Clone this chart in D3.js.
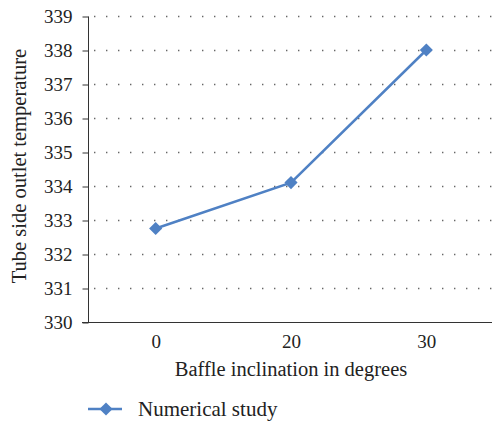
<!DOCTYPE html>
<html>
<head>
<meta charset="utf-8">
<script src="https://cdn.jsdelivr.net/npm/d3@7"></script>
<style>
  body { margin: 0; background: #fff; }
  text { font-family: "Liberation Serif", "DejaVu Serif", serif; fill: #222; }
</style>
</head>
<body>
<div id="chart"></div>
<script>
// data
var categories = ["0", "20", "30"];
var temps = [332.75, 334.1, 338.0];
var yTicks = [330, 331, 332, 333, 334, 335, 336, 337, 338, 339];
var seriesName = "Numerical study";

var svgWidth = 492;
var svgHeight = 424;

var margin = { top: 16, right: 0, bottom: 102, left: 88 };
var width = svgWidth - margin.left - margin.right;
var height = svgHeight - margin.top - margin.bottom;

var svg = d3.select("#chart")
  .append("svg")
  .attr("width", svgWidth)
  .attr("height", svgHeight);

var chartGroup = svg.append("g")
  .attr("transform", `translate(${margin.left}, ${margin.top})`);

var xScale = d3.scalePoint()
  .domain(categories)
  .range([0, 406])
  .padding(0.5);

var yScale = d3.scaleLinear()
  .domain([330, 339])
  .range([height, 0]);

// dotted gridlines
chartGroup.selectAll(".grid")
  .data(yTicks.slice(1))
  .enter()
  .append("line")
  .attr("x1", 6)
  .attr("x2", width)
  .attr("y1", d => yScale(d) + 0.5)
  .attr("y2", d => yScale(d) + 0.5)
  .attr("stroke", "#666")
  .attr("stroke-width", 1.4)
  .attr("stroke-dasharray", "1.4,10.6");

// y axis
var leftAxis = d3.axisLeft(yScale).tickValues(yTicks).tickSize(6).tickPadding(10);
var yAxisG = chartGroup.append("g")
  .attr("transform", "translate(0.5,0.5)")
  .call(leftAxis);
yAxisG.select(".domain").attr("stroke", "#333").attr("d", `M0,${height}V0`);
yAxisG.selectAll(".tick line").attr("stroke", "#333");
yAxisG.selectAll("text").style("font-size", "19px").attr("fill", "#222");

// x axis (line only, no tick marks)
var bottomAxis = d3.axisBottom(xScale).tickSize(0).tickPadding(12);
var xAxisG = chartGroup.append("g")
  .attr("transform", `translate(0, ${height + 0.5})`)
  .call(bottomAxis);
xAxisG.select(".domain").attr("stroke", "#333").attr("d", `M-6,0H${width}`);
xAxisG.selectAll("text").style("font-size", "19px").attr("fill", "#222");

// series line
var line = d3.line()
  .x((d, i) => xScale(categories[i]))
  .y(d => yScale(d));

chartGroup.append("path")
  .datum(temps)
  .attr("d", line)
  .attr("fill", "none")
  .attr("stroke", "#4f81c4")
  .attr("stroke-width", 2.5);

var diamond = d3.symbol().type(d3.symbolDiamond2).size(110);

chartGroup.selectAll(".marker")
  .data(temps)
  .enter()
  .append("path")
  .attr("class", "marker")
  .attr("transform", (d, i) => `translate(${xScale(categories[i])}, ${yScale(d)})`)
  .attr("d", diamond)
  .attr("fill", "#4f81c4");

// axis titles
chartGroup.append("text")
  .attr("transform", "rotate(-90)")
  .attr("x", -height / 2 + 3)
  .attr("y", -margin.left + 26)
  .attr("text-anchor", "middle")
  .style("font-size", "20.5px")
  .text("Tube side outlet temperature");

chartGroup.append("text")
  .attr("x", xScale("20"))
  .attr("y", height + 54)
  .attr("text-anchor", "middle")
  .style("font-size", "20.5px")
  .text("Baffle inclination in degrees");

// legend
var legend = svg.append("g")
  .attr("transform", "translate(88, 409)");
legend.append("line")
  .attr("x1", 0)
  .attr("x2", 34)
  .attr("stroke", "#4f81c4")
  .attr("stroke-width", 2.5);
legend.append("path")
  .attr("transform", "translate(18,0)")
  .attr("d", diamond)
  .attr("fill", "#4f81c4");
legend.append("text")
  .attr("x", 50)
  .attr("y", 7)
  .style("font-size", "21px")
  .text(seriesName);
</script>
</body>
</html>
